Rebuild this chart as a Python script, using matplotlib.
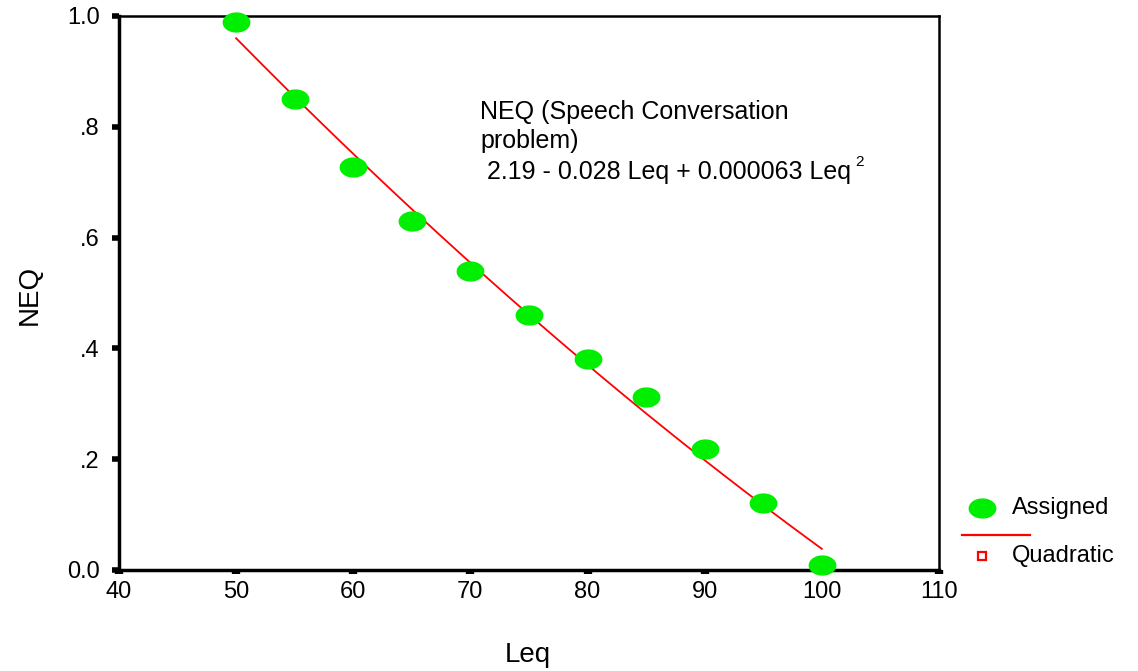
import numpy as np
import matplotlib
matplotlib.use("Agg")
import matplotlib.pyplot as plt
from matplotlib.path import Path
from matplotlib.lines import Line2D

# Data
leq = [50, 55, 60, 65, 70, 75, 80, 85, 90, 95, 100]
neq = [0.989, 0.850, 0.727, 0.630, 0.540, 0.460, 0.381, 0.312, 0.218, 0.121, 0.009]
x_ticks = [40, 50, 60, 70, 80, 90, 100, 110]
y_ticks = [0.0, 0.2, 0.4, 0.6, 0.8, 1.0]
y_ticklabels = ["0.0", ".2", ".4", ".6", ".8", "1.0"]
ann_lines = ["NEQ (Speech Conversation", "problem)", " 2.19 - 0.028 Leq + 0.000063 Leq"]

plt.rcParams['font.family'] = ['Liberation Sans', 'DejaVu Sans']

fig = plt.figure(figsize=(11.38, 6.71), dpi=100)
W, H = 1138, 671
ax = fig.add_axes([119 / W, 1 - 570 / H, (939 - 119) / W, (570 - 16) / H])

# ellipse marker
t = np.linspace(0, 2 * np.pi, 60)
ell = Path(np.column_stack([1.4 * np.cos(t), np.sin(t)]), closed=True)

# quadratic fit
coef = np.polyfit(leq, neq, 2)
xf = np.linspace(min(leq), max(leq), 200)
ax.plot(xf, np.polyval(coef, xf), color='#ff0000', lw=1.3, zorder=2)
ax.plot(leq, neq, linestyle='none', marker=ell, markersize=19,
        markerfacecolor='#00ee00', markeredgecolor='#00ee00', zorder=3, clip_on=False)

ax.set_xlim(40, 110)
ax.set_ylim(0, 1.0)
ax.set_xticks(x_ticks)
ax.set_yticks(y_ticks)
ax.set_yticklabels(y_ticklabels)
ax.tick_params(axis='x', length=3, width=6, labelsize=17, pad=5, direction='out')
ax.tick_params(axis='y', length=5, width=4, labelsize=17, pad=9, direction='out')
for s in ['left', 'bottom']:
    ax.spines[s].set_linewidth(2.5)
for s in ['top', 'right']:
    ax.spines[s].set_linewidth(1.8)

ax.set_xlabel("Leq", fontsize=20)
ax.set_ylabel("NEQ", fontsize=20)
ax.xaxis.set_label_coords((528 - 119) / 820, (570 - 655) / 554)
ax.yaxis.set_label_coords((30 - 119) / 820, (570 - 295) / 554)
ax.xaxis.label.set_va('center')
ax.yaxis.label.set_va('center')

# annotation
fx = lambda px: (px - 119) / 820
fy = lambda py: (570 - py) / 554
ax.text(fx(480), fy(112), ann_lines[0], fontsize=18, va='center', ha='left', transform=ax.transAxes)
ax.text(fx(480), fy(141), ann_lines[1], fontsize=18, va='center', ha='left', transform=ax.transAxes)
t3 = ax.text(fx(480), fy(172), ann_lines[2], fontsize=18, va='center', ha='left', transform=ax.transAxes)
fig.canvas.draw()
bb = t3.get_window_extent()
fig.text((bb.x1 + 4) / W, (bb.y1 - 2) / H, "2", fontsize=11, va='center', ha='left')

# legend drawn in figure coordinates
fig.add_artist(Line2D([982 / W], [1 - 508 / H], marker=ell, markersize=19, linestyle='none',
                      markerfacecolor='#00ee00', markeredgecolor='#00ee00', transform=fig.transFigure))
fig.text(1012 / W, 1 - 508 / H, "Assigned", fontsize=17, va='center', ha='left')
fig.add_artist(Line2D([962 / W, 1030 / W], [1 - 535 / H] * 2, color='#ff0000', lw=1.6,
                      transform=fig.transFigure))
fig.add_artist(Line2D([982 / W], [1 - 556 / H], marker='s', markersize=6, linestyle='none',
                      markerfacecolor='white', markeredgecolor='#ff0000', markeredgewidth=1.6,
                      transform=fig.transFigure))
fig.text(1012 / W, 1 - 556 / H, "Quadratic", fontsize=17, va='center', ha='left')

fig.savefig("out.png", dpi=100)
